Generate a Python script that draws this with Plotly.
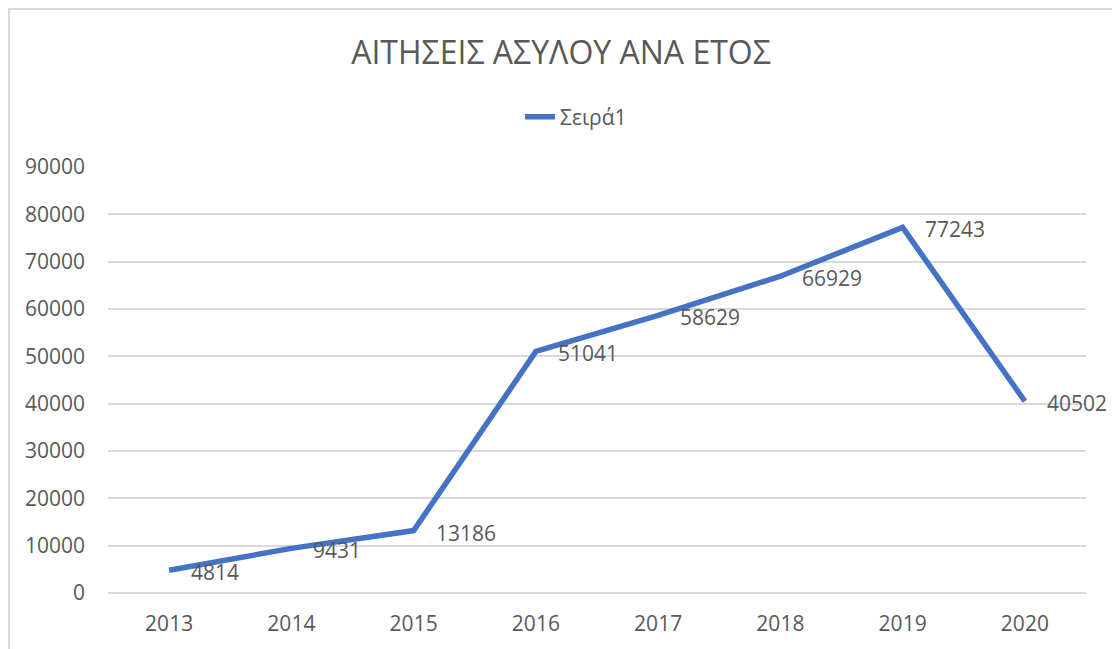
import plotly.graph_objects as go

years = ["2013", "2014", "2015", "2016", "2017", "2018", "2019", "2020"]
applications = [4814, 9431, 13186, 51041, 58629, 66929, 77243, 40502]
y_ticks = [0, 10000, 20000, 30000, 40000, 50000, 60000, 70000, 80000, 90000]

TEXT = "#595959"
GRID = "#D9D9D9"
BLUE = "#4472C4"
FONT = "Open Sans"

# plot area inside the figure (the page body adds 8px on each side)
L, R, T, B = 100, 1078, 159, 585
W, H = 1112, 641

fig = go.Figure()

fig.add_trace(
    go.Scatter(
        x=years,
        y=applications,
        mode="lines",
        line=dict(color=BLUE, width=5.5),
        name="Σειρά1",
    )
)

# data labels, to the right of each point like Excel does
# (category index for x: a year string would be read as a number)
for i, val in enumerate(applications):
    fig.add_annotation(
        x=i,
        y=val,
        text=str(val),
        showarrow=False,
        xanchor="left",
        yanchor="middle",
        xshift=20,
        yshift=-2,
        font=dict(family=FONT, size=21, color=TEXT),
    )

fig.update_layout(
    width=W,
    height=H,
    paper_bgcolor="white",
    plot_bgcolor="white",
    font=dict(family=FONT, size=21, color=TEXT),
    title=dict(
        text="ΑΙΤΗΣΕΙΣ ΑΣΥΛΟΥ ΑΝΑ ΕΤΟΣ",
        x=(553 / W),
        xanchor="center",
        y=1 - 45 / H,
        yanchor="middle",
        font=dict(family=FONT, size=32, color=TEXT),
    ),
    showlegend=True,
    legend=dict(
        orientation="h",
        x=(568 - L) / (R - L),
        xanchor="center",
        y=1 + (T - 109) / (B - T),
        yanchor="middle",
        font=dict(family=FONT, size=21, color=TEXT),
    ),
    margin=dict(l=L, r=W - R, t=T, b=H - B),
    xaxis=dict(
        type="category",
        range=[-0.5, 7.5],
        showgrid=False,
        showline=False,
        ticks="",
        tickfont=dict(family=FONT, size=21, color=TEXT),
        ticklabelstandoff=16,
    ),
    yaxis=dict(
        range=[0, 90000],
        tickvals=y_ticks,
        ticktext=[str(v) for v in y_ticks],
        showgrid=True,
        gridcolor=GRID,
        gridwidth=2,
        zeroline=True,
        zerolinecolor=GRID,
        zerolinewidth=2,
        showline=False,
        ticks="",
        tickfont=dict(family=FONT, size=21, color=TEXT),
        ticklabelstandoff=22,
    ),
    shapes=[
        dict(
            type="rect",
            xref="paper",
            yref="paper",
            x0=(1 - L) / (R - L),
            x1=(1106 - L) / (R - L),
            y0=-0.3,
            y1=(B - 1) / (B - T),
            line=dict(color=GRID, width=2),
            fillcolor="rgba(0,0,0,0)",
            layer="below",
        )
    ],
)

fig.write_html("out.html")
